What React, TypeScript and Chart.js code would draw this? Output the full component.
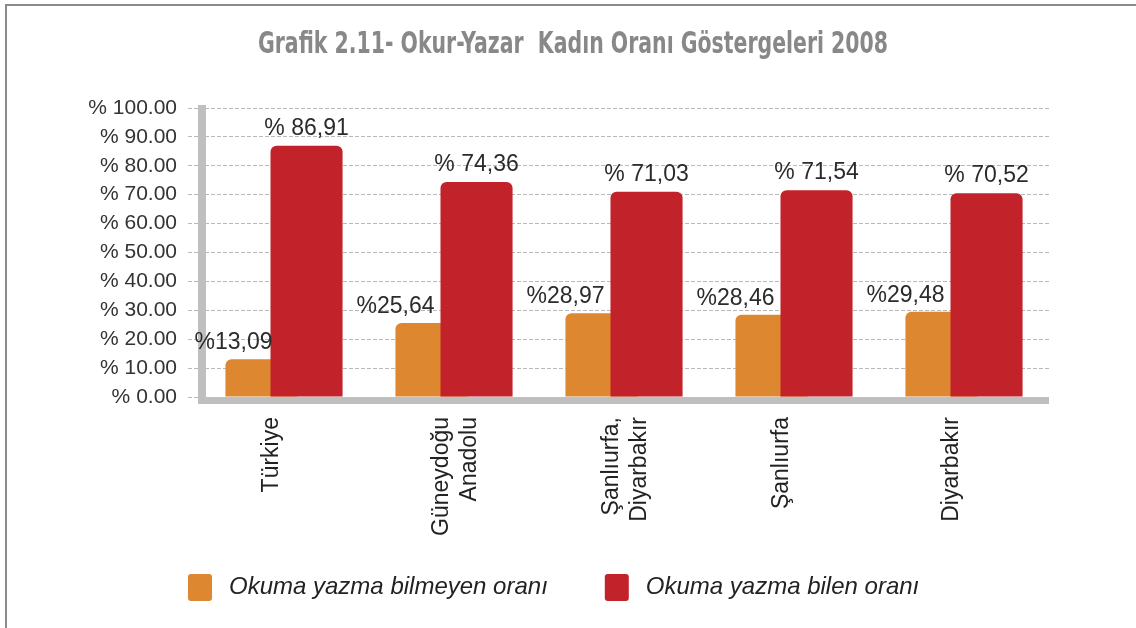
import React, { useEffect, useRef } from "react";
import { Chart, registerables } from "chart.js";

Chart.register(...registerables);

const categories: (string | string[])[] = [
  "Türkiye",
  ["Güneydoğu", "Anadolu"],
  ["Şanlıurfa,", "Diyarbakır"],
  "Şanlıurfa",
  "Diyarbakır",
];
const illiterateRates = [13.09, 25.64, 28.97, 28.46, 29.48];
const literateRates = [86.91, 74.36, 71.03, 71.54, 70.52];
const seriesNames = ["Okuma yazma bilmeyen oranı", "Okuma yazma bilen oranı"];
const seriesColors = ["#dd8831", "#c2232a"];
const titleText = "Grafik 2.11- Okur-Yazar  Kadın Oranı Göstergeleri 2008";

const FONT = "'Liberation Sans', Arial, Helvetica, sans-serif";
const fmt = (v: number) => v.toFixed(2).replace(".", ",");

const framePlugin = {
  id: "frame",
  beforeDraw(chart: any) {
    const ctx = chart.ctx;
    ctx.save();
    ctx.fillStyle = "#ffffff";
    ctx.fillRect(0, 0, chart.width, chart.height);
    ctx.strokeStyle = "#8a8a8a";
    ctx.lineWidth = 2;
    ctx.beginPath();
    ctx.moveTo(6, chart.height);
    ctx.lineTo(6, 5);
    ctx.lineTo(chart.width, 5);
    ctx.stroke();
    ctx.restore();
  },
};

// Draw the orange series underneath the red one (Chart.js draws dataset 0 on top by default)
const layerPlugin = {
  id: "layer",
  beforeDatasetDraw(chart: any, args: any) {
    if (args.index === 0) {
      return false;
    }
    if (args.index === 1) {
      const meta0 = chart.getDatasetMeta(0);
      const area = chart.chartArea;
      const ctx = chart.ctx;
      ctx.save();
      ctx.beginPath();
      ctx.rect(area.left, area.top - 50, area.right - area.left, area.bottom - area.top + 50);
      ctx.clip();
      meta0.controller.draw();
      ctx.restore();
    }
    return true;
  },
};

const decorPlugin = {
  id: "decor",
  afterDatasetsDraw(chart: any) {
    const ctx = chart.ctx;
    const area = chart.chartArea;
    ctx.save();
    // thick axis bars
    ctx.fillStyle = "#bfbfbf";
    ctx.fillRect(area.left - 1, area.top - 3, 8, area.bottom - area.top + 10);
    ctx.fillRect(area.left - 1, area.bottom, area.right - area.left + 1, 7);

    // value labels
    ctx.font = `23px ${FONT}`;
    ctx.fillStyle = "#2b2b2b";
    ctx.textBaseline = "alphabetic";
    const m0 = chart.getDatasetMeta(0);
    m0.data.forEach((bar: any, i: number) => {
      ctx.textAlign = "right";
      const dx = i === 0 ? 11 : 3;
      ctx.fillText("%" + fmt(illiterateRates[i]), bar.x + dx, bar.y - 10);
    });
    const m1 = chart.getDatasetMeta(1);
    m1.data.forEach((bar: any, i: number) => {
      ctx.textAlign = "center";
      ctx.fillText("% " + fmt(literateRates[i]), bar.x, bar.y - 11);
    });
    ctx.restore();
  },
  afterDraw(chart: any) {
    const ctx = chart.ctx;
    ctx.save();
    // title
    ctx.font = `bold 30px 'Liberation Sans Narrow', 'DejaVu Sans Condensed', ${FONT}`;
    ctx.fillStyle = "#888888";
    ctx.textBaseline = "middle";
    ctx.textAlign = "center";
    const w = ctx.measureText(titleText).width;
    const target = 630;
    ctx.translate(573, 45);
    ctx.scale(target / w, 1);
    ctx.fillText(titleText, 0, 0);
    ctx.restore();

    // legend
    ctx.save();
    ctx.font = `italic 24px ${FONT}`;
    ctx.textBaseline = "middle";
    ctx.textAlign = "left";
    let x = 188;
    const y = 587;
    chart.data.datasets.forEach((ds: any) => {
      ctx.fillStyle = ds.backgroundColor;
      ctx.beginPath();
      (ctx as any).roundRect(x, y - 13, 24, 27, 3);
      ctx.fill();
      ctx.fillStyle = "#222222";
      ctx.fillText(ds.label, x + 41, y);
      x += 41 + ctx.measureText(ds.label).width + 57;
    });
    ctx.restore();
  },
};

export default function App() {
  const ref = useRef<HTMLCanvasElement | null>(null);
  useEffect(() => {
    document.body.style.margin = "0";
    if (!ref.current) return;
    const chart = new Chart(ref.current, {
      type: "bar",
      data: {
        labels: categories as any,
        datasets: [
          {
            label: seriesNames[0],
            data: illiterateRates,
            backgroundColor: seriesColors[0],
            borderRadius: 6,
            categoryPercentage: 0.53,
            barPercentage: 1.6,
          },
          {
            label: seriesNames[1],
            data: literateRates,
            backgroundColor: seriesColors[1],
            borderRadius: 6,
            categoryPercentage: 0.53,
            barPercentage: 1.6,
          },
        ],
      },
      options: {
        responsive: false,
        animation: false,
        devicePixelRatio: 1,
        layout: { padding: { left: 0, right: 87, top: 108, bottom: 0 } },
        plugins: {
          legend: { display: false },
          title: { display: false },
          tooltip: { enabled: false },
        },
        scales: {
          x: {
            grid: { display: false, drawTicks: false },
            border: { display: false },
            ticks: {
              autoSkip: false,
              minRotation: 90,
              maxRotation: 90,
              padding: 20,
              labelOffset: -12,
              color: "#222222",
              font: { family: FONT, size: 23 },
            },
            afterFit: (scale: any) => {
              scale.height = 231;
            },
          },
          y: {
            min: 0,
            max: 100,
            border: { display: false },
            grid: {
              color: "#b8b8b8",
              lineWidth: 1,
              drawTicks: true,
              tickLength: 11,
              tickColor: "#b8b8b8",
              tickBorderDash: [4, 2],
            } as any,
            ticks: {
              stepSize: 10,
              padding: 11,
              color: "#333333",
              font: { family: FONT, size: 21 },
              callback: (v: any) => "% " + Number(v).toFixed(2),
            },
            afterFit: (scale: any) => {
              scale.width = 199;
            },
          },
        },
      } as any,
      plugins: [framePlugin, layerPlugin, decorPlugin],
    });
    (chart.options.scales as any).y.border.dash = [4, 2];
    (chart.options.scales as any).y.grid.borderDash = [4, 2];
    chart.update();
    return () => chart.destroy();
  }, []);
  return (
    <div style={{ width: 1136, height: 628 }}>
      <canvas ref={ref} width={1136} height={628} />
    </div>
  );
}
